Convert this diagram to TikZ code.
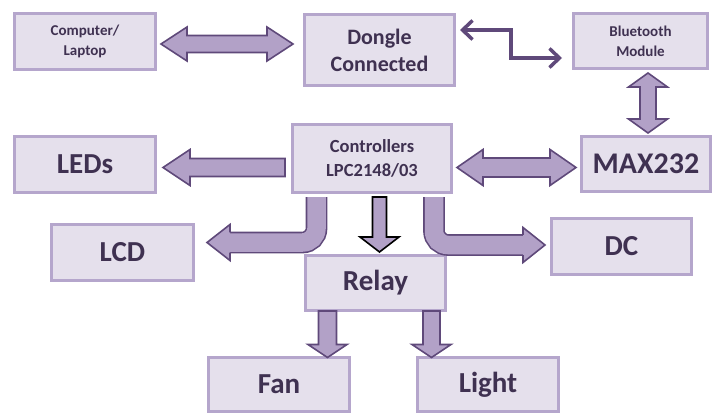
\documentclass[tikz,border=0pt]{standalone}
\usepackage{fontspec}
\setmainfont{Carlito}
\usetikzlibrary{arrows.meta,positioning,calc}
\definecolor{boxFill}{HTML}{E5E0EC}
\definecolor{boxLine}{HTML}{B5A6CC}
\definecolor{arrFill}{HTML}{B2A1C7}
\definecolor{arrLine}{HTML}{5F497A}
\definecolor{txtDark}{HTML}{3F3151}

\tikzset{
  blk s/.store in=\blkS, blk h/.store in=\blkH, blk l/.store in=\blkL,
  blk s=9, blk h=18, blk l=26,
  % straight block arrow, head at the target
  blk one/.style={to path={let \p8=(\tikztostart), \p9=(\tikztotarget),
      \p1=($(\p9)!\blkL pt!(\p8)$) in
      ($(\p8)!\blkS pt!90:(\p9)$) -- ($(\p1)!\blkS pt!90:(\p9)$)
      -- ($(\p1)!\blkH pt!90:(\p9)$) -- (\p9)
      -- ($(\p1)!\blkH pt!-90:(\p9)$) -- ($(\p1)!\blkS pt!-90:(\p9)$)
      -- ($(\p8)!\blkS pt!-90:(\p9)$) -- cycle}},
  % straight block arrow, heads at both ends
  blk two/.style={to path={let \p8=(\tikztostart), \p9=(\tikztotarget),
      \p1=($(\p8)!\blkL pt!(\p9)$), \p2=($(\p9)!\blkL pt!(\p8)$) in
      (\p8) -- ($(\p1)!\blkH pt!90:(\p9)$) -- ($(\p1)!\blkS pt!90:(\p9)$)
      -- ($(\p2)!\blkS pt!90:(\p9)$) -- ($(\p2)!\blkH pt!90:(\p9)$) -- (\p9)
      -- ($(\p2)!\blkH pt!-90:(\p9)$) -- ($(\p2)!\blkS pt!-90:(\p9)$)
      -- ($(\p1)!\blkS pt!-90:(\p9)$) -- ($(\p1)!\blkH pt!-90:(\p9)$) -- cycle}},
  % open head only, for the bent shafts
  blk tip/.style={to path={let \p8=(\tikztostart), \p9=(\tikztotarget) in
      ($(\p8)!\blkS pt!90:(\p9)$) -- ($(\p8)!\blkH pt!90:(\p9)$) -- (\p9)
      -- ($(\p8)!\blkH pt!-90:(\p9)$) -- ($(\p8)!\blkS pt!-90:(\p9)$)}},
}

\begin{document}
\begin{tikzpicture}[x=1pt, y=-1pt,
    box/.style={draw=boxLine, fill=boxFill, line width=3pt, inner sep=0pt, outer sep=0pt,
      text=txtDark, align=center},
    small/.style={font=\bfseries\fontsize{15}{20}\selectfont},
    mid/.style={font=\bfseries\fontsize{22}{27}\selectfont},
    ctl/.style={font=\bfseries\fontsize{18.5}{24}\selectfont},
    big/.style={font=\bfseries\fontsize{29}{34}\selectfont},
    blk/.style={draw=arrLine, fill=arrFill, line width=1.6pt, line join=miter},
    bentshaft/.style={draw=arrLine, line width=1.6pt, double=arrFill, double distance=18.5pt,
      rounded corners=14pt},
    thinarr/.style={draw=arrLine, line width=3.5pt,
      {Straight Barb[length=10pt,width=19pt]}-{Straight Barb[length=10pt,width=19pt]}}]
  \useasboundingbox (0,0) rectangle (713,415);

  % top row
  \node[box, small, minimum width=141pt, minimum height=56pt] (pc) at (85,41.5) {Computer/\\Laptop};
  \node[box, mid, minimum width=150pt, minimum height=71pt] (dongle) at (379.5,50) {Dongle\\Connected};
  \node[box, small, minimum width=134pt, minimum height=55pt] (bt) at (640.5,41) {Bluetooth\\Module};

  % middle row
  \node[box, big, minimum width=141pt, minimum height=56pt] (leds) at (85,164.5) {LEDs};
  \node[box, ctl, minimum width=159pt, minimum height=68pt] (ctrl) at (372,158.5) {Controllers\\LPC2148/03};
  \node[box, big, font=\bfseries\fontsize{30}{34}\selectfont, minimum width=129pt, minimum height=55pt] (max) at (646,164) {MAX232};

  % lower rows
  \node[box, big, minimum width=142pt, minimum height=56pt] (lcd) at (122.5,252.5) {LCD};
  \node[box, big, minimum width=140pt, minimum height=56pt] (dc) at (621.5,246.5) {DC};
  \node[box, big, minimum width=140pt, minimum height=55pt] (relay) at (375.5,283) {Relay};
  \node[box, big, minimum width=141pt, minimum height=54pt] (fan) at (279,384.5) {Fan};
  \node[box, big, minimum width=141pt, minimum height=54pt] (light) at (488,384.5) {Light};

  % block arrows
  \draw[blk, blk s=8.5, blk h=17, blk l=26]
    ([xshift=5.5pt,yshift=-2.5pt]pc.east) to[blk two] ([xshift=-11.5pt,yshift=6pt]dongle.west);
  \draw[blk, blk s=8, blk h=19.5, blk l=14]
    ([xshift=7.5pt,yshift=-4.5pt]bt.south) to[blk two] ([xshift=2pt,yshift=3.5pt]max.north);
  \draw[blk, blk s=9, blk h=18, blk l=27]
    ([xshift=-7.5pt,yshift=-9pt]ctrl.west) to[blk one] ([xshift=7.5pt,yshift=-3pt]leds.east);
  \draw[blk, blk s=9.5, blk h=18, blk l=26]
    ([xshift=5.5pt,yshift=-9pt]ctrl.east) to[blk two] ([xshift=-5.5pt,yshift=-3.5pt]max.west);
  \draw[blk, draw=black, blk s=7, blk h=19.5, blk l=15]
    ([xshift=7.5pt,yshift=-4.5pt]ctrl.south) to[blk one] ([xshift=4pt,yshift=3.5pt]relay.north);
  \draw[blk, blk s=9, blk h=19.5, blk l=13]
    ([xshift=-48pt,yshift=-0.5pt]relay.south) to[blk one] ([xshift=48.5pt]fan.north);
  \draw[blk, blk s=8.5, blk h=19.5, blk l=13]
    ([xshift=56pt,yshift=-0.5pt]relay.south) to[blk one] ([xshift=-56.5pt]light.north);

  % bent arrows to LCD and DC
  \coordinate (lcdtip) at ([xshift=13.5pt,yshift=10pt]lcd.east);
  \coordinate (lcdbase) at ([xshift=23pt]lcdtip);
  \draw[bentshaft] ([xshift=-55.5pt,yshift=-4.5pt]ctrl.south) |- (lcdbase);
  \draw[blk, blk s=10.05, blk h=18] (lcdbase) to[blk tip] (lcdtip);
  \coordinate (dctip) at ([xshift=-6.5pt,yshift=1.5pt]dc.west);
  \coordinate (dcbase) at ([xshift=-22pt]dctip);
  \draw[bentshaft] ([xshift=62pt,yshift=-4.5pt]ctrl.south) |- (dcbase);
  \draw[blk, blk s=10.05, blk h=17.5] (dcbase) to[blk tip] (dctip);

  % thin link dongle - bluetooth
  \coordinate (dgout) at ([xshift=5.5pt,yshift=20pt]dongle.east);
  \coordinate (btin) at ([xshift=-11.5pt,yshift=-17pt]bt.west);
  \draw[thinarr] (dgout) -| ($(dgout)!.5!(btin)$) |- (btin);
\end{tikzpicture}
\end{document}
